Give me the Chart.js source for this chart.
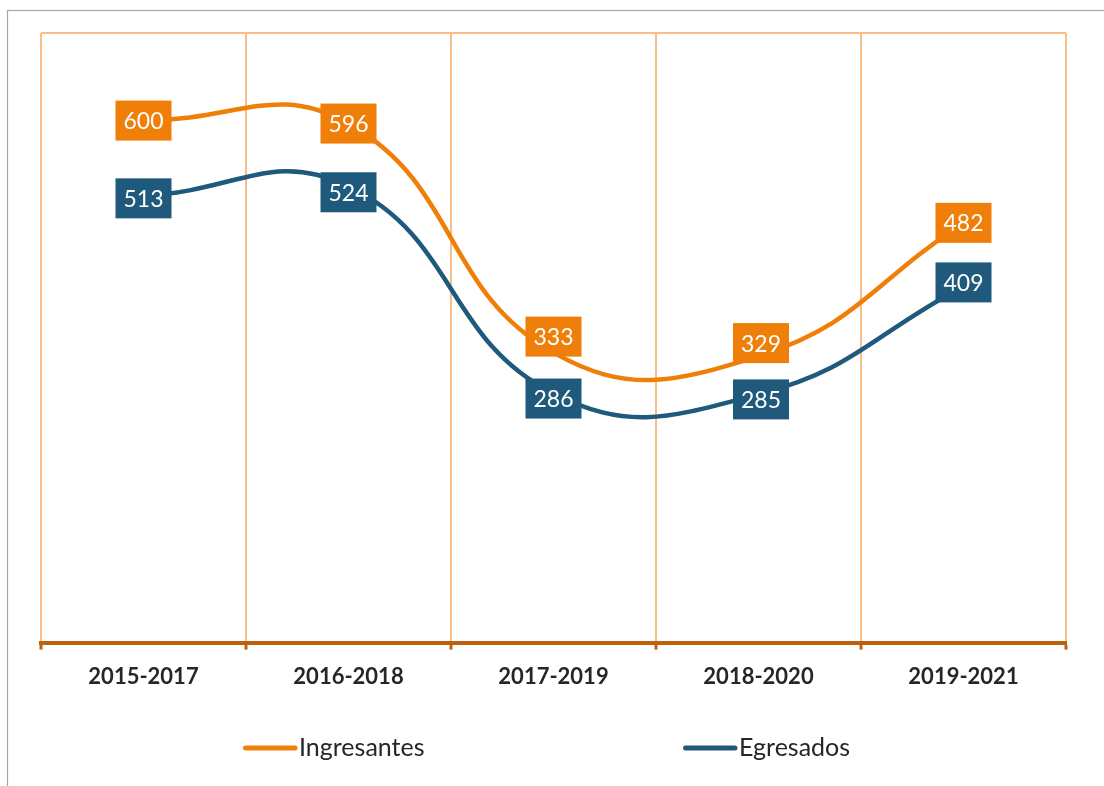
<!DOCTYPE html>
<html><head><meta charset="utf-8">
<script src="https://cdn.jsdelivr.net/npm/chart.js@4.4.1/dist/chart.umd.min.js"></script>
<style>html,body{margin:0;padding:0;background:#fff;overflow:hidden}</style>
</head><body>
<canvas id="c" width="1104" height="786"></canvas>
<script>
const categories = ['2015-2017','2016-2018','2017-2019','2018-2020','2019-2021'];
const seriesNames = ['Ingresantes','Egresados'];
const ingresantes = [600,596,333,329,482];
const egresados = [513,524,286,285,409];
const yMin = 0, yMax = 700;

const ORANGE = '#F07F09', BLUE = '#1F597B';
const GRID = '#F9BD85', AXIS = '#BF600E', TEXT = '#262626';

// label box offsets (pixels) relative to each point, as moved in the original
const labelOffsets = [
  {dx:[0,0,0,2.5,0], dy:[0.5,0,-16,-13,0]},
  {dx:[0,0,0,2.5,0], dy:[2.5,6,5,5,-4]}
];

const framePlugin = {
  id:'frame',
  beforeDraw(chart){
    const ctx = chart.ctx;
    ctx.save();
    ctx.fillStyle = '#fff';
    ctx.fillRect(0,0,chart.width,chart.height);
    ctx.strokeStyle = '#A6A6A6';
    ctx.lineWidth = 1.2;
    ctx.strokeRect(7.5,10.5,2000,2000);
    ctx.restore();
  }
};

const labelPlugin = {
  id:'boxLabels',
  afterDatasetsDraw(chart){
    const ctx = chart.ctx;
    ctx.save();
    ctx.font = '23px Lato';
    ctx.textAlign = 'center';
    ctx.textBaseline = 'alphabetic';
    chart.data.datasets.forEach((ds, di) => {
      const meta = chart.getDatasetMeta(di);
      meta.data.forEach((pt, i) => {
        const cx = pt.x + labelOffsets[di].dx[i];
        const cy = pt.y + labelOffsets[di].dy[i];
        ctx.fillStyle = ds.borderColor;
        ctx.fillRect(cx - 28, cy - 20, 56, 40);
        ctx.fillStyle = '#fff';
        ctx.fillText(String(ds.data[i]), cx, cy + 8.5);
      });
    });
    ctx.restore();
  }
};

const legendPlugin = {
  id:'customLegend',
  afterDraw(chart){
    const ctx = chart.ctx;
    const starts = [243, 683];
    ctx.save();
    ctx.font = '25px Lato';
    ctx.textAlign = 'left';
    ctx.textBaseline = 'alphabetic';
    chart.data.datasets.forEach((ds, di) => {
      const x = starts[di];
      ctx.strokeStyle = ds.borderColor;
      ctx.lineWidth = 5;
      ctx.lineCap = 'round';
      ctx.beginPath();
      ctx.moveTo(x + 2.5, 748);
      ctx.lineTo(x + 52, 748);
      ctx.stroke();
      ctx.fillStyle = TEXT;
      ctx.fillText(ds.label, x + 56, 756);
    });
    ctx.restore();
  }
};

new Chart(document.getElementById('c'), {
  type:'line',
  data:{
    labels: categories,
    datasets:[
      {label: seriesNames[0], data: ingresantes, borderColor: ORANGE, backgroundColor: ORANGE,
       borderWidth: 4.5, tension: 0.45, pointRadius: 0, fill:false, borderCapStyle:'round'},
      {label: seriesNames[1], data: egresados, borderColor: BLUE, backgroundColor: BLUE,
       borderWidth: 4.5, tension: 0.45, pointRadius: 0, fill:false, borderCapStyle:'round'}
    ]
  },
  options:{
    responsive:false,
    devicePixelRatio:1,
    animation:false,
    layout:{padding:{left:41, right:38, top:33, bottom:82}},
    plugins:{legend:{display:false}, tooltip:{enabled:false}},
    scales:{
      x:{
        offset:true,
        grid:{offset:true, color:GRID, lineWidth:2, tickColor:AXIS, tickWidth:3, tickLength:7, drawTicks:true},
        border:{color:AXIS, width:4},
        ticks:{font:{family:'Lato', size:22, weight:'bold'}, color:TEXT, padding:14, maxRotation:0}
      },
      y:{
        min:yMin, max:yMax,
        ticks:{display:false, stepSize:100},
        grid:{drawTicks:false, lineWidth:2, color:(c)=> c.tick && c.tick.value === yMax ? GRID : 'rgba(0,0,0,0)'},
        border:{display:false}
      }
    }
  },
  plugins:[framePlugin, labelPlugin, legendPlugin]
});
</script>
</body></html>
